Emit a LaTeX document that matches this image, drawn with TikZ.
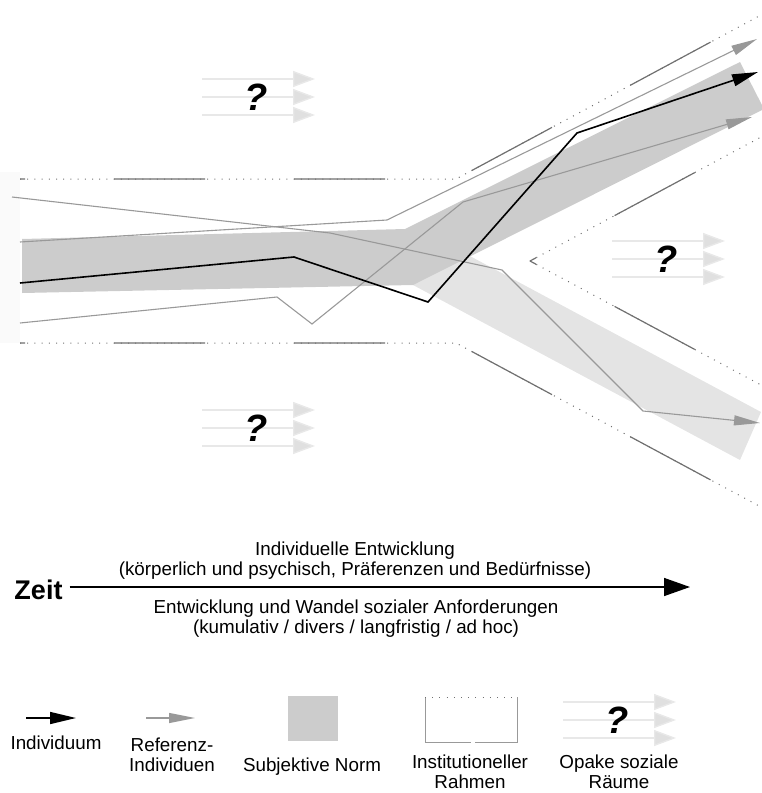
\documentclass[tikz,border=0pt]{standalone}
\usepackage{fontspec}
\setmainfont{Liberation Sans}
\usetikzlibrary{arrows.meta, positioning}
\definecolor{ink}      {HTML}{000000}
\definecolor{normdark} {HTML}{CCCCCC}
\definecolor{normlite} {HTML}{E4E4E4}
\definecolor{refgray}  {HTML}{999999}
\definecolor{framegray}{HTML}{707070}
\definecolor{fog}      {HTML}{E8E8E8}
\definecolor{fogtip}   {HTML}{E0E0E0}
\definecolor{haze}     {HTML}{FAFAFA}
\tikzset{
  indiv/.style    = {draw=ink, line width=1.6pt,
                     -{Triangle[length=26pt, width=12pt]}},
  refline/.style  = {draw=refgray, line width=1.1pt,
                     -{Triangle[length=26pt, width=10pt]}},
  timearr/.style  = {draw=ink, line width=1.5pt,
                     -{Triangle[length=26pt, width=18pt]}},
  fogarr/.style   = {draw=fog, line width=1.4pt,
                     -{Triangle[length=22pt, width=16pt, fill=fogtip]}},
  framedot/.style = {draw=framegray, line width=1pt, dash pattern=on 1pt off 6.2pt},
  framesol/.style = {draw=framegray, line width=1.2pt, dash pattern=on 91pt off 89pt},
  lgframe/.style  = {draw=refgray, line width=1pt},
  qmark/.style    = {font=\bfseries\itshape\fontsize{38}{38}\selectfont, inner sep=0pt},
  txt/.style      = {font=\fontsize{18.8}{20}\selectfont, align=center, inner sep=0pt},
  zeitlbl/.style  = {font=\bfseries\fontsize{27}{27}\selectfont, inner sep=0pt},
}

\begin{document}
\begin{tikzpicture}[x=1pt, y=-1pt]

  \useasboundingbox (0,0) rectangle (761,793);

  % norm bands
  \fill[haze] (0,172) rectangle (20,343);
  \fill[normlite] (413,285) -- (740,460) -- (761,412) -- (440,240) -- cycle;
  \fill[normdark] (22,239) -- (405,229) -- (740,62) -- (764,109)
                  -- (413,285) -- (22,293) -- cycle;

  % institutional frame
  \foreach \fy/\fe in {179/15, 343/507} {
    \draw[framedot] (20,\fy) -- (456,\fy) -- (761,\fe);
    \draw[framesol, dash phase=86pt] (20,\fy) -- (456,\fy) -- (761,\fe);
  }
  \foreach \fe in {137, 385} {
    \draw[framedot] (530,261) -- (761,\fe);
    \draw[framesol, dash phase=84pt] (530,261) -- (761,\fe);
  }

  % reference individuals and individual
  \draw[refline] (12,197) -- (330,233) -- (502,270) -- (643,411) -- (760,423);
  \draw[refline] (20,242) -- (387,220) -- (757,39);
  \draw[refline] (20,323) -- (277,297) -- (312,324) -- (463,202) -- (752,117);
  \draw[indiv] (20,283) -- (294,257) -- (428,302) -- (577,133) -- (758,72);

  % opaque social spaces
  \foreach \ox/\oy/\nm in {202/97/qa, 202/428/qb, 612/259/qc, 563/720/qd} {
    \foreach \d in {-18,0,18}
      \draw[fogarr] (\ox,\oy+\d) -- ++(113,0);
    \node[qmark] (\nm) at (\ox+54,\oy) {?};
  }

  % time axis
  \node[zeitlbl] (zeit) at (38.5,590) {Zeit};
  \coordinate (tend) at (690,587);
  \draw[timearr] ([xshift=7pt, yshift=3pt]zeit.east) -- (tend);
  \node[txt] (idev) at (355,561)
    {Individuelle Entwicklung\\(körperlich und psychisch, Präferenzen und Bedürfnisse)};
  \node[txt] (sdev) at (356,619)
    {Entwicklung und Wandel sozialer Anforderungen\\(kumulativ / divers / langfristig / ad hoc)};

  % legend
  \draw[indiv] (26,718) -- (76,718);
  \draw[refline] (146,718) -- (195,718);
  \fill[normdark] (288,696) rectangle (338,741);
  \draw[lgframe] (425,697) -- (425,742) -- (471,742);
  \draw[lgframe] (475,742) -- (517,742) -- (517,697);
  \draw[framedot] (425,697) -- (517,697);

  \node[txt] (lind)  at (56,743)  {Individuum};
  \node[txt] (lref)  at (172,755) {Referenz-\\Individuen};
  \node[txt] (lnorm) at (312,767) {Subjektive Norm};
  \node[txt] (lfram) at (470,772) {Institutioneller\\Rahmen};
  \node[txt] (lopak) at (619,772) {Opake soziale\\Räume};

\end{tikzpicture}
\end{document}
